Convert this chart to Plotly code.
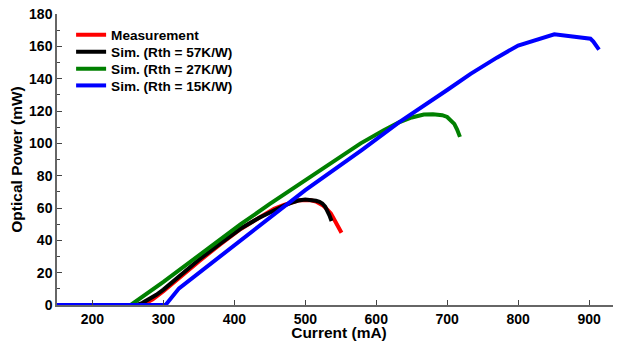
import plotly.graph_objects as go

# Measured L-I curve
meas_x = [150, 200, 266, 275, 285, 300, 325, 350, 380, 409, 435, 456, 470, 480, 490, 500, 508, 515, 520, 525, 530, 536, 540, 544, 548, 551]
meas_y = [0, 0, 0, 1.2, 3.5, 8.5, 18, 27, 37.5, 47, 54, 59.5, 62, 63.5, 64.6, 65, 64.8, 64, 63, 61.5, 59.5, 56.6, 53.5, 50, 47, 44.7]

# Simulations
sim57_x = [150, 200, 262, 270, 280, 290, 300, 325, 350, 380, 409, 435, 456, 470, 480, 490, 500, 508, 515, 520, 524, 528, 531, 534, 537]
sim57_y = [0, 0, 0, 1.2, 3.5, 6.3, 9.5, 19, 28, 38, 47.3, 54, 58.7, 61.5, 63.2, 64.6, 65.3, 65.2, 64.5, 63.8, 62.8, 60.8, 58.5, 55.5, 52]

sim27_x = [150, 200, 254, 300, 350, 409, 450, 500, 540, 578, 610, 632, 650, 667, 680, 693, 700, 705, 710, 714, 718]
sim27_y = [0, 0, 0, 14.3, 30.5, 50, 62.5, 77, 89, 100, 108, 113, 116, 117.8, 118, 117.4, 116.3, 114.5, 112, 108.5, 104]

sim15_x = [150, 200, 250, 303, 322, 409, 500, 580, 632, 700, 733, 770, 800, 851, 902, 906, 910, 914]
sim15_y = [0, 0, 0, 0, 10.3, 40.1, 71, 96, 113, 133, 143, 153, 160.5, 167.4, 164.7, 163, 160.5, 158]

names = ["Measurement", "Sim. (Rth = 57K/W)", "Sim. (Rth = 27K/W)", "Sim. (Rth = 15K/W)"]
colors = ["#ff0000", "#000000", "#008000", "#0000ff"]

x_ticks = [200, 300, 400, 500, 600, 700, 800, 900]
y_ticks = [0, 20, 40, 60, 80, 100, 120, 140, 160, 180]

FONT = "Arial, Liberation Sans, sans-serif"

legend_ids = ["legend", "legend2", "legend3", "legend4"]
legend_y = [0.928, 0.870, 0.811, 0.754]

fig = go.Figure()
for xs, ys, n, c, lg in zip([meas_x, sim57_x, sim27_x, sim15_x],
                            [meas_y, sim57_y, sim27_y, sim15_y], names, colors, legend_ids):
    fig.add_trace(go.Scatter(x=xs, y=ys, mode="lines", name=n, legend=lg,
                             line=dict(color=c, width=4)))

legend_common = dict(x=0.025, xanchor="left", yanchor="middle",
                     bgcolor="rgba(0,0,0,0)", borderwidth=0,
                     font=dict(family=FONT, size=13.6, color="black", weight="bold"))

layout_legends = {}
for lg, ly in zip(legend_ids, legend_y):
    layout_legends[lg] = dict(legend_common, y=ly)

# The page body has an 8px default margin, so the figure is sized/margined to compensate
fig.update_layout(
    width=613, height=333,
    margin=dict(l=49, r=0, t=6, b=36),
    paper_bgcolor="white", plot_bgcolor="white",
    font=dict(family=FONT, size=14, color="black", weight="bold"),
    showlegend=True,
    **layout_legends,
    xaxis=dict(range=[150, 945], tickvals=x_ticks, ticks="inside", ticklen=5,
               tickcolor="#444", showline=True, linecolor="#666", linewidth=1.5,
               showgrid=False, zeroline=False, automargin=False,
               tickfont=dict(size=14, weight="bold"), ticklabeloverflow="allow",
               title=dict(text="Current (mA)", standoff=5, font=dict(size=15.5, weight="bold"))),
    yaxis=dict(range=[0, 180], tickvals=y_ticks, ticks="inside", ticklen=5,
               tickcolor="#444", showline=True, linecolor="#666", linewidth=1.5,
               showgrid=False, zeroline=False, automargin=False,
               tickfont=dict(size=14, weight="bold"), ticklabeloverflow="allow",
               minor=dict(dtick=10, ticks="inside", ticklen=3, tickcolor="#444"),
               title=dict(text="Optical Power (mW)", standoff=4, font=dict(size=15.5, weight="bold"))),
)

fig.write_html("out.html")
